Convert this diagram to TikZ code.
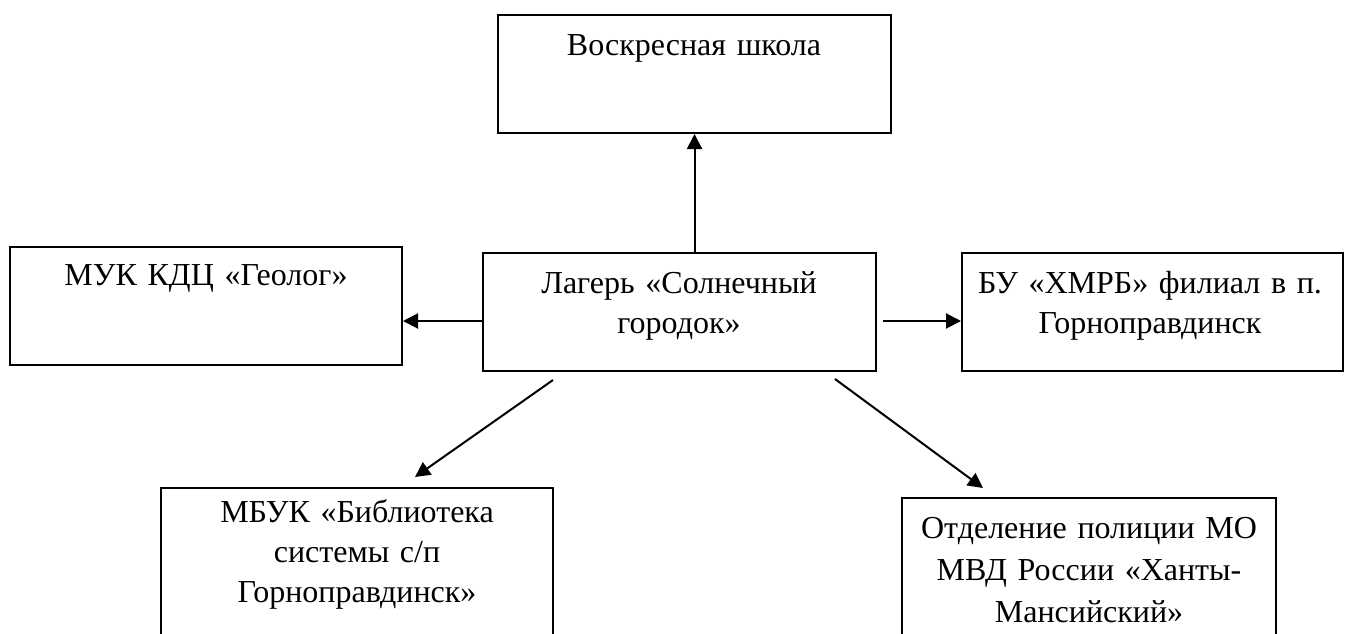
\documentclass[tikz,border=0pt]{standalone}
\usepackage{fontspec}
\setmainfont{Liberation Serif}
\usetikzlibrary{arrows.meta}

\tikzset{
  box/.style={draw, line width=1pt, inner sep=0pt},
  lbl/.style={anchor=base, align=center, text width=190pt, inner sep=0pt,
    font=\fontsize{16}{20}\selectfont},
  arr/.style={-{Triangle[length=7.5pt,width=7.5pt]}, line width=1pt},
}

\begin{document}
\begin{tikzpicture}[x=0.5pt,y=-0.5pt]
            \useasboundingbox (0,0) rectangle (1347,633);
            \clip (0,0) rectangle (1347,633);

            % Центральный блок
            \node[box, minimum width=196.5pt, minimum height=59pt] (camp) at (679.5,312) {};
            \node[lbl] (camptxt) at (679,293) {Лагерь «Солнечный\\городок»};

            % Блоки вокруг
            \node[box, minimum width=196.5pt, minimum height=59pt] (sunday) at (694.5,74) {};
            \node[box, minimum width=196pt, minimum height=59pt] (geolog) at (206,306) {};
            \node[box, minimum width=190.5pt, minimum height=59pt] (hospital) at (1152.5,312) {};
            \node[box, minimum width=196pt, minimum height=80pt] (library) at (357,568) {};
            \node[box, minimum width=187pt, minimum height=80pt] (police) at (1089,578) {};

            \node[lbl] (sundaytxt) at (694,55) {Воскресная школа};
            \node[lbl] (geologtxt) at (206,285) {МУК КДЦ «Геолог»};
            \node[lbl] (hospitaltxt) at (1150,293) {БУ «ХМРБ» филиал в п.\\Горноправдинск};
            \node[lbl] (librarytxt) at (357,522) {МБУК «Библиотека\\системы с/п\\Горноправдинск»};
            \node[lbl, font=\fontsize{16}{21}\selectfont] (policetxt) at (1089,538)
              {Отделение полиции МО\\МВД России «Ханты-\\Мансийский»};

            % Стрелки
            \coordinate (L1) at (553,380);
            \coordinate (L2) at (415,477);
            \coordinate (P1) at (835,379);
            \coordinate (P2) at (983,488);
            \draw[arr] (camp.north -| sunday.south) -- (sunday.south);
            \draw[arr] ([yshift=-4.5pt]camp.west) -- ([yshift=-4.5pt]camp.west -| geolog.east);
            \draw[arr] ([xshift=3pt,yshift=-4.5pt]camp.east) -- ([yshift=-4.5pt]camp.east -| hospital.west);
            \draw[arr] (L1) -- (L2);
            \draw[arr] (P1) -- (P2);
        \end{tikzpicture}
\end{document}
